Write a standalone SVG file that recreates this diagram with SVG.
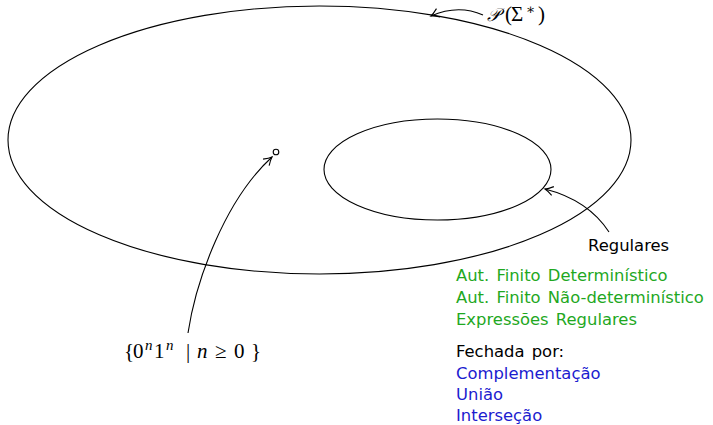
<svg xmlns="http://www.w3.org/2000/svg" width="713" height="425" viewBox="0 0 713 425">
<style>
.ln{fill:none;stroke:#000;stroke-width:1.1}
.sans{font-family:"DejaVu Sans",sans-serif;font-size:16.4px;word-spacing:2px}
.g{fill:#1fa81f}
.b{fill:#1c1ccf}
.k{fill:#000}
.math{font-family:"Liberation Serif","DejaVu Serif",serif;font-size:21px}
.it{font-style:italic}
.sup{font-style:italic;font-size:15px}
</style>
<defs>
<marker id="ah" viewBox="-10 -6 12 12" markerWidth="12" markerHeight="12" refX="0" refY="0" orient="auto" markerUnits="userSpaceOnUse">
<path d="M-8,-4.5 Q-3,-1 0,0 Q-3,1 -8,4.5" fill="none" stroke="#000" stroke-width="1.1"/>
</marker>
</defs>
<g id="universe"><ellipse class="ln" cx="319.5" cy="140" rx="311.5" ry="134"/></g>
<g id="regulares"><ellipse class="ln" cx="437.5" cy="169.5" rx="113.5" ry="50.5"/></g>
<g id="point"><circle class="ln" cx="276" cy="152" r="2.8"/></g>
<g id="connectors">
<path class="ln" d="M483,15 Q458,4 431,16" marker-end="url(#ah)"/>
<path class="ln" d="M188,333 C196,280 225,200 272,157" marker-end="url(#ah)"/>
<path class="ln" d="M609,232 Q588,200 545,189" marker-end="url(#ah)"/>
</g>
<g id="label-p"><text class="math" y="21" font-size="20"><tspan x="487" font-family="DejaVu Serif" font-style="italic" font-size="18">𝒫</tspan><tspan x="505">(</tspan><tspan x="511">Σ</tspan><tspan x="526" y="14" font-size="14">∗</tspan><tspan x="538" y="21">)</tspan></text></g>
<g id="label-lang"><text class="math" y="358"><tspan x="124">{</tspan><tspan x="133">0</tspan><tspan x="145" y="350" class="sup">n</tspan><tspan x="154" y="358">1</tspan><tspan x="166" y="350" class="sup">n</tspan><tspan x="186" y="358">|</tspan><tspan x="197" class="it">n</tspan><tspan x="215">≥</tspan><tspan x="234">0</tspan><tspan x="251">}</tspan></text></g>
<g id="label-reg">
<text class="sans k" x="588" y="251">Regulares</text>
<text class="sans g" x="456" y="281">Aut. Finito Determinístico</text>
<text class="sans g" x="456" y="303">Aut. Finito Não-determinístico</text>
<text class="sans g" x="456" y="325">Expressões Regulares</text>
<text class="sans k" x="456" y="357">Fechada por:</text>
<text class="sans b" x="456" y="379">Complementação</text>
<text class="sans b" x="456" y="400">União</text>
<text class="sans b" x="456" y="421">Interseção</text>
</g>
</svg>
